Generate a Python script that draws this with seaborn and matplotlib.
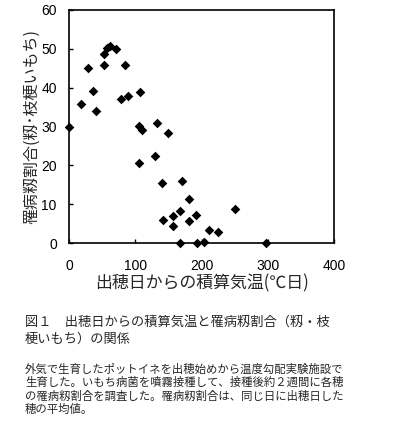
import numpy as np
import pandas as pd
import matplotlib
matplotlib.use("Agg")
import matplotlib.pyplot as plt
import seaborn as sns

# accumulated temperature since heading (degree-days) vs. diseased grain ratio (%)
accum_temp = [0, 18, 28, 36, 40, 53, 57, 61, 70, 53, 84, 78, 88, 107,
              106, 110, 132, 149, 105, 129, 140, 170, 181, 142, 157, 157,
              168, 181, 191, 211, 225, 168, 193, 203, 251, 297]
disease_ratio = [30.0, 35.8, 45.0, 39.2, 34.0, 48.6, 50.3, 50.6, 49.9, 45.8,
                 45.7, 37.1, 37.9, 38.8, 30.1, 29.1, 30.8, 28.3, 20.7, 22.4,
                 15.6, 15.9, 11.3, 6.1, 7.0, 4.5, 8.2, 5.7, 7.2, 3.3, 2.9,
                 0.0, 0.0, 0.3, 8.7, 0.0]

x_ticks = [0, 100, 200, 300, 400]
y_ticks = [0, 10, 20, 30, 40, 50, 60]

x_label = "出穂日からの積算気温(℃日)"
y_label = "罹病籾割合(籾･枝梗いもち)"
caption = ["図１　出穂日からの積算気温と罹病籾割合（籾・枝",
           "梗いもち）の関係"]
note = ["外気で生育したポットイネを出穂始めから温度勾配実験施設で",
        "生育した。いもち病菌を噴霧接種して、接種後約２週間に各穂",
        "の罹病籾割合を調査した。罹病籾割合は、同じ日に出穂日した",
        "穂の平均値。"]

df = pd.DataFrame({"temp": accum_temp, "ratio": disease_ratio})

sns.set_style("ticks")
plt.rcParams['font.family'] = ['Noto Sans CJK JP', 'DejaVu Sans']
jp = ['Noto Sans CJK JP', 'DejaVu Sans']

fig = plt.figure(figsize=(3.93, 4.48), dpi=100)
ax = fig.add_axes([0.1763, 0.457, 0.6737, 0.521])

sns.scatterplot(data=df, x="temp", y="ratio", marker="D", color="black",
                s=24, linewidth=0, clip_on=False, ax=ax, zorder=3)

ax.set_xlim(0, 400)
ax.set_ylim(0, 60)
ax.set_xticks(x_ticks)
ax.set_yticks(y_ticks)
ax.tick_params(direction="in", length=3, width=1, colors="black",
               labelsize=10)
ax.tick_params(axis="x", pad=11)
ax.tick_params(axis="y", pad=9)
for lab in ax.get_xticklabels() + ax.get_yticklabels():
    lab.set_family("Liberation Sans")
for sp in ax.spines.values():
    sp.set_visible(True)
    sp.set_linewidth(1.2)
    sp.set_color("black")

ax.set_xlabel(x_label, fontsize=12.2, family=jp, labelpad=1)
ax.set_ylabel(y_label, fontsize=11.5, family=jp, labelpad=1)

fig.text(25 / 393, 1 - 322 / 448, caption[0], fontsize=9.5, family=jp, va="center")
fig.text(25 / 393, 1 - 339 / 448, caption[1], fontsize=9.5, family=jp, va="center")
for i, line in enumerate(note):
    fig.text(25 / 393, 1 - (369 + 13.5 * i) / 448, line, fontsize=8.2,
             family=jp, va="center")

fig.savefig("out.png", dpi=100)
plt.close()
